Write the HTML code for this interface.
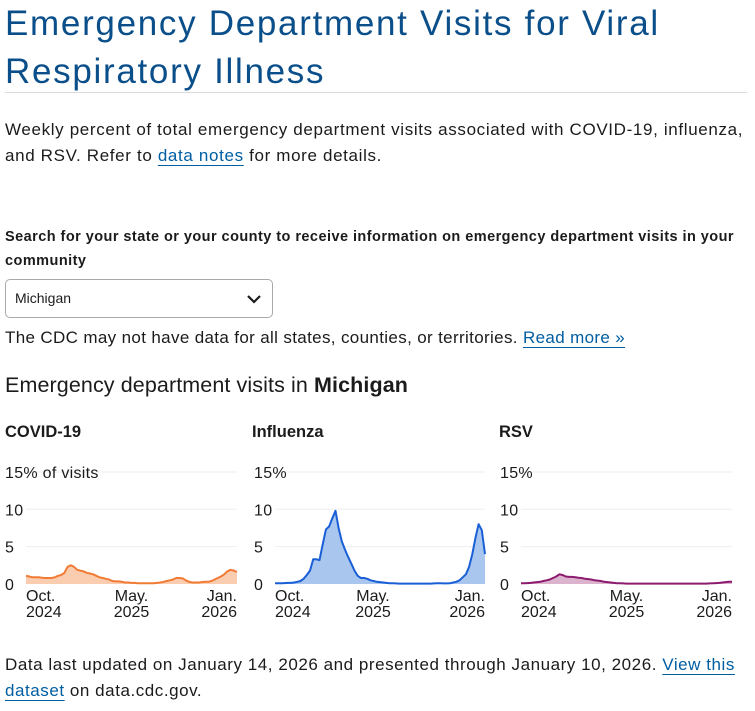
<!DOCTYPE html>
<html><head><meta charset="utf-8">
<style>
*{margin:0;padding:0;box-sizing:border-box}
body{width:755px;height:711px;background:#fff;font-family:"Liberation Sans",sans-serif;color:#1b1b1b;position:relative;overflow:hidden}
.abs{position:absolute;white-space:nowrap}
h1{position:absolute;left:5px;top:0px;font-weight:normal;font-size:35px;line-height:48px;color:#0b4f8a;letter-spacing:1.7px}
.hr{position:absolute;left:5px;top:92px;width:742px;height:1px;background:#dcdcdc}
.p{font-size:17px;letter-spacing:0.65px}
a{color:#005ea2;text-decoration:underline;text-underline-offset:4px}
.lbl{font-size:14.5px;font-weight:bold;letter-spacing:0.45px}
.sel{position:absolute;left:5px;top:279px;width:268px;height:39px;border:1px solid #aaa;border-radius:5px;font-size:14px;padding:10px 0 0 9px}
.ct{font-size:16.5px;font-weight:bold}
svg text{font-family:"Liberation Sans",sans-serif;fill:#1b1b1b}
</style></head><body>
<h1>Emergency Department Visits for Viral<br>Respiratory Illness</h1>
<div class="hr"></div>
<div class="abs p" style="left:5px;top:120px">Weekly percent of total emergency department visits associated with COVID-19, influenza,</div>
<div class="abs p" style="left:5px;top:146px">and RSV. Refer to <a>data notes</a> for more details.</div>
<div class="abs lbl" style="left:5px;top:229px">Search for your state or your county to receive information on emergency department visits in your</div>
<div class="abs lbl" style="left:5px;top:253px">community</div>
<div class="sel">Michigan
<svg style="position:absolute;right:10px;top:13px" width="16" height="12"><path d="M2 3 L8 9 L14 3" stroke="#1b1b1b" stroke-width="2.2" fill="none"/></svg></div>
<div class="abs p" style="left:5px;top:328px;letter-spacing:0.35px">The CDC may not have data for all states, counties, or territories. <a>Read more »</a></div>
<div class="abs" style="left:5px;top:373px;font-size:21.5px;letter-spacing:0.1px">Emergency department visits in <b>Michigan</b></div>
<div class="abs ct" style="left:5px;top:423px">COVID-19</div>
<div class="abs ct" style="left:252px;top:423px">Influenza</div>
<div class="abs ct" style="left:499px;top:423px">RSV</div>
<svg id="charts" class="abs" style="left:0;top:455px" width="755" height="170"></svg>
<div class="abs p" style="left:5px;top:655px;letter-spacing:0.55px">Data last updated on January 14, 2026 and presented through January 10, 2026. <a>View this</a></div>
<div class="abs p" style="left:5px;top:681px;letter-spacing:0.55px"><a>dataset</a> on data.cdc.gov.</div>
<script>
const yTicks=[0,5,10,15];
const xTickLabels=[["Oct.","2024"],["May.","2025"],["Jan.","2026"]];
const covidValues=[1.1,1.0,0.9,0.9,0.9,0.85,0.8,0.8,0.8,0.9,1.1,1.2,1.5,2.3,2.5,2.3,1.9,1.8,1.7,1.5,1.4,1.3,1.1,0.9,0.8,0.7,0.6,0.4,0.35,0.35,0.3,0.2,0.2,0.15,0.15,0.1,0.1,0.1,0.1,0.1,0.1,0.15,0.2,0.3,0.4,0.5,0.6,0.8,0.8,0.75,0.5,0.3,0.2,0.2,0.2,0.25,0.3,0.3,0.4,0.6,0.8,1.0,1.3,1.7,1.9,1.8,1.6];
const fluValues=[0.1,0.1,0.1,0.12,0.15,0.15,0.2,0.3,0.4,0.7,1.2,1.8,3.3,3.3,3.2,5.3,7.3,7.7,8.8,9.8,7.5,5.7,4.6,3.6,2.7,1.8,1.1,0.8,0.8,0.7,0.5,0.4,0.3,0.25,0.2,0.15,0.1,0.1,0.08,0.05,0.05,0.05,0.05,0.05,0.05,0.05,0.05,0.05,0.05,0.05,0.08,0.1,0.1,0.08,0.08,0.1,0.2,0.3,0.5,0.9,1.3,2.3,4.0,6.2,8.0,7.2,4.0];
const rsvValues=[0.1,0.1,0.12,0.15,0.2,0.25,0.3,0.4,0.5,0.6,0.8,1.0,1.3,1.2,1.0,0.95,0.95,0.9,0.85,0.8,0.7,0.65,0.6,0.5,0.45,0.4,0.3,0.25,0.2,0.15,0.1,0.1,0.08,0.05,0.05,0.05,0.05,0.05,0.05,0.05,0.05,0.05,0.05,0.05,0.05,0.05,0.05,0.05,0.05,0.05,0.05,0.05,0.05,0.05,0.05,0.05,0.05,0.05,0.06,0.08,0.1,0.12,0.15,0.2,0.25,0.3,0.3];
const NS="http://www.w3.org/2000/svg";
const svg=document.getElementById('charts');
function mk(tag,attrs,parent){const e=document.createElementNS(NS,tag);for(const k in attrs)e.setAttribute(k,attrs[k]);parent.appendChild(e);return e;}
const panels=[
 {name:'covid',x0:26,x1:237,values:covidValues,line:'#f07b35',fill:'#fbcdb0',topLabel:'15% of visits'},
 {name:'influenza',x0:275,x1:485,values:fluValues,line:'#1a5fd6',fill:'#a9c6ef',topLabel:'15%'},
 {name:'rsv',x0:521,x1:732,values:rsvValues,line:'#8c1a6e',fill:'#dcb3cc',topLabel:'15%'}
];
const base=129, unit=7.47;
function yScale(v){return base-v*unit;}
panels.forEach(p=>{
  const g=mk('g',{},svg);
  
  
  const lx=p.x0-21;
  yTicks.forEach(t=>{
    const y=yScale(t);
    if(t>0){const gl=mk('line',{x1:p.x0,x2:p.x1,y1:y,y2:y,stroke:'#eeeeee','stroke-width':1},g);
      
      }
    const tx=mk('text',{x:lx,y:y+6,'font-size':16,'letter-spacing':0.3},g);
    tx.textContent=t===15?p.topLabel:String(t);
    
    
  });
  const xs=i=>p.x0+(p.x1-p.x0)*i/(p.values.length-1);
  let d='M'+xs(0)+' '+yScale(p.values[0]);
  p.values.forEach((v,i)=>{if(i)d+=' L'+xs(i).toFixed(1)+' '+yScale(v).toFixed(1);});
  const area=mk('path',{d:d+' L'+p.x1+' '+base+' L'+p.x0+' '+base+' Z',fill:p.fill,stroke:'none'},g);
  
  
  const ln=mk('path',{d:d,fill:'none',stroke:p.line,'stroke-width':2,'stroke-linejoin':'round'},g);
  
  
  const pos=[[p.x0,'start'],[(p.x0+p.x1)/2+(p.name==='influenza'?-7:0),'middle'],[p.x1,'end']];
  xTickLabels.forEach((lab,i)=>{
    const [x,anc]=pos[i];
    lab.forEach((s,j)=>{
      const t=mk('text',{x:x,y:base+17+j*16,'font-size':16,'text-anchor':anc},g);
      t.textContent=s;
      
      
    });
  });
});
</script>
</body></html>
